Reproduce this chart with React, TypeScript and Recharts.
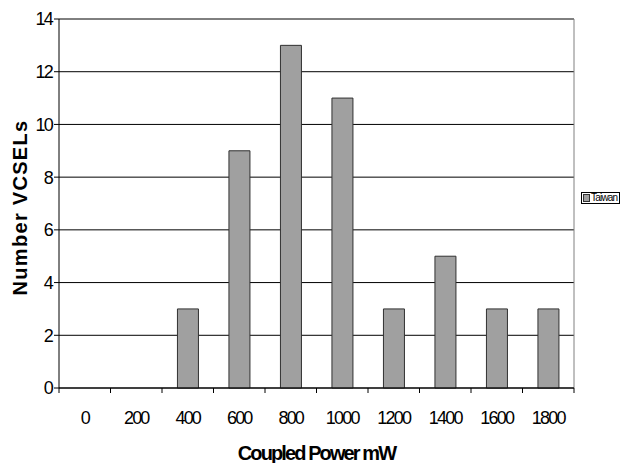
import { Bar, BarChart, CartesianGrid, Label, Legend, ReferenceLine, XAxis, YAxis } from "recharts";

const powerBins = ["0", "200", "400", "600", "800", "1000", "1200", "1400", "1600", "1800"];
const taiwanCounts = [0, 0, 3, 9, 13, 11, 3, 5, 3, 3];
const countTicks = [0, 2, 4, 6, 8, 10, 12, 14];

const data = powerBins.map((bin, i) => ({ bin, taiwan: taiwanCounts[i] }));

const FONT = '"Liberation Sans", Arial, sans-serif';

function PowerTick(props: any) {
  const { x, y, payload, index } = props;
  const half = payload?.offset ?? 25.7;
  const last = index === powerBins.length - 1;
  return (
    <g>
      <line x1={x - half} y1={y - 5} x2={x - half} y2={y} stroke="#000" />
      {last && <line x1={x + half} y1={y - 5} x2={x + half} y2={y} stroke="#000" />}
      <text
        x={x}
        y={y + 31}
        textAnchor="middle"
        fontFamily={FONT}
        fontSize={18}
        letterSpacing={-1.8}
        fill="#000"
      >
        {payload.value}
      </text>
    </g>
  );
}

function CountLabel(props: any) {
  const { viewBox } = props;
  const cx = 20;
  const cy = viewBox.y + viewBox.height / 2 + 4;
  return (
    <text
      x={cx}
      y={cy}
      transform={`rotate(-90 ${cx} ${cy})`}
      textAnchor="middle"
      dominantBaseline="central"
      fontFamily={FONT}
      fontSize={20}
      fontWeight="bold"
      letterSpacing={1.3}
      fill="#000"
    >
      Number VCSELs
    </text>
  );
}

function LegendBox(props: any) {
  const { payload = [] } = props;
  return (
    <div
      style={{
        border: "1px solid #000",
        background: "#fff",
        padding: "0 1px",
        height: 10,
        display: "flex",
        alignItems: "center",
        fontFamily: FONT,
        fontSize: 10,
        letterSpacing: -0.8,
        lineHeight: "10px",
      }}
    >
      {payload.map((p: any) => (
        <span key={p.value} style={{ display: "flex", alignItems: "center" }}>
          <span
            style={{
              width: 5,
              height: 6,
              background: "#a0a0a0",
              border: "1px solid #333",
              marginRight: 1,
            }}
          />
          {p.value}
        </span>
      ))}
    </div>
  );
}

export default function App() {
  return (
    <div style={{ position: "absolute", left: 0, top: 0, width: 627, height: 463, background: "#fff" }}>
      <BarChart
        width={627}
        height={463}
        data={data}
        margin={{ top: 19, right: 53, left: 0, bottom: 0 }}
        barCategoryGap="30%"
      >
        <CartesianGrid vertical={false} stroke="#000" />
        <XAxis
          dataKey="bin"
          height={75}
          axisLine={{ stroke: "#000" }}
          tickLine={false}
          tickSize={5}
          tickMargin={0}
          interval={0}
          tick={<PowerTick />}
        >
          <Label
            value="Coupled Power mW"
            position="insideBottom"
            offset={3}
            fontFamily={FONT}
            fontSize={20}
            fontWeight="bold"
            letterSpacing={-1.9}
            fill="#000"
          />
        </XAxis>
        <YAxis
          width={59}
          domain={[0, 14]}
          ticks={countTicks}
          interval={0}
          axisLine={{ stroke: "#000" }}
          tickLine={{ stroke: "#000" }}
          tickSize={5}
          tickMargin={2}
          tick={{ fontFamily: FONT, fontSize: 18, letterSpacing: -1.8, fill: "#000" }}
          label={<CountLabel />}
        />
        <ReferenceLine y={14} stroke="#808080" />
        <ReferenceLine x="1800" position="end" stroke="#808080" />
        <Legend
          layout="horizontal"
          align="center"
          verticalAlign="middle"
          content={<LegendBox />}
          wrapperStyle={{ left: 581, top: 192, width: 39, height: 12 }}
        />
        <Bar
          dataKey="taiwan"
          name="Taiwan"
          fill="#a0a0a0"
          stroke="#303030"
          strokeWidth={1}
          isAnimationActive={false}
        />
      </BarChart>
    </div>
  );
}
